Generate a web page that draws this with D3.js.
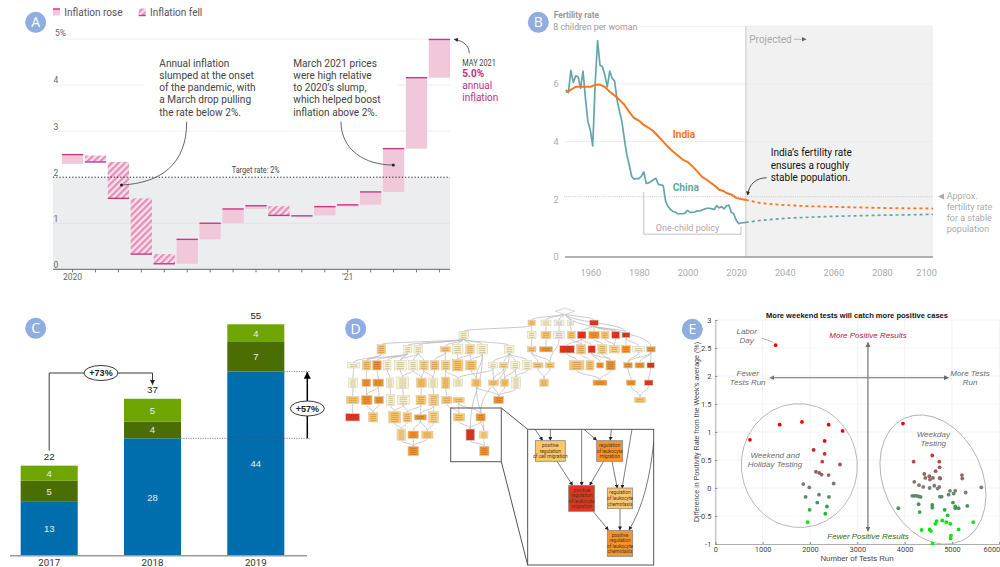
<!DOCTYPE html>
<html><head><meta charset="utf-8">
<script src="https://cdnjs.cloudflare.com/ajax/libs/d3/7.8.5/d3.min.js"></script>
<style>html,body{margin:0;padding:0;background:#fff}svg{display:block}text{font-family:Roboto,sans-serif}</style>
</head><body><div id="c"></div>
<script>
// ---------- Panel A data
const aMonths=["Jan20","Feb20","Mar20","Apr20","May20","Jun20","Jul20","Aug20","Sep20","Oct20","Nov20","Dec20","Jan21","Feb21","Mar21","Apr21","May21"];
const aOpen=[2.29,2.47,2.33,1.54,0.33,0.12,0.65,1.0,1.31,1.37,1.17,1.17,1.36,1.40,1.68,2.62,4.16];
const aClose=[2.49,2.33,1.54,0.33,0.12,0.65,1.0,1.31,1.38,1.17,1.16,1.36,1.40,1.68,2.62,4.16,4.99];
const aTicks=[0,1,2,3,4,5];
// ---------- Panel B data
const bChinaYears=[1950,1951,1952,1953,1954,1955,1956,1957,1958,1959,1960,1961,1962,1963,1964,1965,1966,1967,1968,1969,1970,1971,1972,1973,1974,1975,1976,1977,1978,1979,1980,1981,1982,1983,1984,1985,1986,1987,1988,1989,1990,1991,1992,1993,1994,1995,1996,1997,1998,1999,2000,2001,2002,2003,2004,2005,2006,2007,2008,2009,2010,2011,2012,2013,2014,2015,2016,2017,2018,2019,2020,2021,2022,2024];
const bChina=[5.8,5.7,6.47,6.05,6.28,6.25,5.85,6.45,5.5,4.7,4.4,3.85,6.0,7.5,6.65,6.6,6.3,5.9,6.45,6.2,6.1,5.45,5.05,4.7,4.1,3.55,3.2,2.8,2.7,2.72,2.72,2.8,2.95,2.55,2.57,2.62,2.68,2.73,2.52,2.5,2.48,1.93,1.75,1.65,1.58,1.55,1.5,1.5,1.5,1.52,1.62,1.55,1.55,1.56,1.6,1.6,1.63,1.66,1.69,1.69,1.67,1.65,1.78,1.7,1.75,1.67,1.77,1.8,1.55,1.5,1.28,1.16,1.18,1.2];
const bIndiaYears=[1950,1952,1954,1958,1960,1962,1964,1966,1968,1970,1972,1974,1976,1978,1980,1982,1984,1986,1988,1990,1992,1994,1996,1998,2000,2002,2004,2006,2008,2010,2012,2013,2015,2016,2018,2020,2022,2024];
const bIndia=[5.72,5.8,5.9,5.9,5.9,5.97,5.98,5.9,5.73,5.6,5.45,5.28,5.03,4.82,4.73,4.58,4.48,4.36,4.18,4.0,3.82,3.66,3.52,3.38,3.3,3.15,2.97,2.78,2.67,2.55,2.42,2.33,2.28,2.22,2.17,2.05,2.01,1.98];
const bProjYears=[2024,2030,2040,2050,2060,2070,2080,2090,2101];
const bIndiaProj=[1.98,1.87,1.8,1.76,1.74,1.72,1.7,1.69,1.68];
const bChinaProj=[1.2,1.27,1.34,1.38,1.41,1.43,1.45,1.46,1.48];
const bYearTicks=[1960,1980,2000,2020,2040,2060,2080,2100];
const bValueTicks=[0,2,4,6];
// ---------- Panel C data
const cYears=["2017","2018","2019"];
const cBlue=[12.8,27.9,43.8];
const cDark=[5,4,7];
const cLight=[3.6,5.4,4.2];
const cBlueLabels=["13","28","44"];
const cDarkLabels=["5","4","7"];
const cLightLabels=["4","5","4"];
const cTotals=["22","37","55"];
// ---------- Panel D data: [rank, column, enrichment level, label length, label lines]
const dNodes=[
[1,575,3,22,2],[1,618,1,30,2],[1,657,0,30,2],[1,692,0,18,2],[1,762,5,26,2],
[2,371,1,28,3],[2,575,1,26,3],[2,618,3,30,3],[2,657,0,32,3],[2,694,3,24,3],[2,725,5,26,3],[2,762,4,32,3],[2,795,3,24,3],[2,827,5,24,3],[2,858,5,24,2],
[3,124,3,26,4],[3,203,1,24,3],[3,235,1,26,3],[3,316,3,30,2],[3,353,1,32,4],[3,390,2,26,4],[3,427,1,32,4],[3,508,1,28,3],[3,575,3,26,2],[3,618,4,40,2],[3,681,5,44,3],[3,723,3,28,4],[3,755,5,22,3],[3,787,2,28,4],[3,823,2,30,3],[3,858,4,26,3],[3,896,1,36,2],[3,933,4,26,2],
[4,41,1,36,2],[4,80,3,26,4],[4,111,4,26,4],[4,142,1,22,4],[4,181,1,36,4],[4,219,1,26,4],[4,252,2,26,4],[4,284,3,26,4],[4,317,2,26,4],[4,353,3,32,5],[4,393,3,32,4],[4,459,1,26,2],[4,491,2,26,2],[4,526,1,26,3],[4,561,1,26,4],[4,594,3,30,2],[4,630,3,26,2],[4,710,3,44,4],[4,750,3,24,4],[4,780,4,22,2],[4,812,4,28,4],[4,864,4,26,2],[4,899,4,28,2],[4,932,5,22,2],
[5,39,1,26,4],[5,79,4,26,3],[5,115,4,32,3],[5,150,1,22,4],[5,188,1,36,5],[5,244,3,30,4],[5,279,1,26,4],[5,317,3,24,5],[5,354,1,28,3],[5,409,3,28,3],[5,460,3,30,2],[5,494,3,24,3],[5,528,1,26,5],[5,612,3,26,3],[5,780,4,42,2],[5,873,4,28,2],[5,926,5,26,2],
[6,38,3,38,3],[6,80,4,32,4],[6,117,4,28,3],[6,152,1,24,5],[6,190,1,36,4],[6,243,3,30,4],[6,281,2,30,5],[6,320,3,30,3],[6,356,3,34,2],[6,476,4,30,3],[6,900,3,34,2],
[7,38,5,42,3],[7,99,3,28,4],[7,164,3,36,5],[7,202,3,26,4],[7,241,4,36,2],[7,281,2,30,5],[7,357,3,34,3],[7,422,4,28,3],
[8,184,2,26,5],[8,220,4,32,3],[8,262,3,34,3],[8,391,5,26,5],[8,431,2,26,3],
[9,220,4,32,4],[9,433,4,28,4]];
const dEdges=["0:675>1:575","0:675>1:618","0:675>1:657","0:675>1:692","0:675>1:762","0:675>2:858","0:675>3:933","1:575>2:371","1:575>2:575","1:618>2:618","1:657>2:657","1:692>2:694","1:762>2:725","1:762>2:762","1:762>2:795","1:762>2:827","1:762>2:858",
"2:371>3:124","2:371>3:203","2:371>3:235","2:371>3:316","2:371>3:353","2:371>3:390","2:371>3:427","2:371>3:508","2:575>3:575","2:618>3:618","2:657>4:630","2:694>3:723","2:725>3:681","2:725>3:723","2:725>3:755","2:795>3:823","2:827>3:823","2:858>3:858","2:858>3:896","2:762>3:787",
"3:575>4:594","3:575>4:630","3:681>4:710","3:723>4:750","3:755>4:780","3:755>4:812","3:787>4:812","3:896>4:864","3:933>4:864","3:933>4:899","3:933>4:932","4:594>5:612","4:630>5:612","4:710>5:780","4:812>5:780","4:864>5:873","4:932>5:926","5:873>6:900","5:926>6:900",
"3:124>4:80","3:124>4:41","3:203>4:80","3:203>4:111","3:203>4:142","3:203>4:181","3:235>4:181","3:235>4:219","3:235>4:252","3:316>4:317","3:316>4:284","3:353>4:353","3:390>4:393","3:390>4:353","3:427>4:393","3:427>5:409","3:508>4:459","3:508>4:491","3:508>4:526","3:508>4:561",
"4:41>5:39","5:39>6:38","6:38>7:38","4:80>5:79","4:111>5:115","5:79>6:80","5:115>6:80","5:115>6:117","6:80>7:99","6:117>7:99","4:142>5:150","5:150>6:152","4:181>5:188","5:188>6:190","6:152>7:164","6:190>7:164","6:190>7:202","4:219>5:188","4:219>5:244","4:252>5:244","4:252>5:279","4:284>5:279","4:317>5:317","5:244>6:243","5:279>6:281","5:317>6:320","4:317>5:354","6:243>7:241","6:281>7:241","6:281>7:281","6:243>7:202",
"7:164>8:184","7:202>8:184","7:241>8:220","7:241>8:262","7:281>8:262","8:184>9:220","8:220>9:220","8:262>9:220","6:320>7:357","6:356>7:357","6:356>7:422","4:459>5:460","4:459>5:354","4:491>5:460","4:491>5:494","4:526>5:528","4:526>5:494","4:561>5:528","5:460>6:476","5:494>6:476","5:528>6:476","5:409>6:476","7:357>8:391","7:422>8:391","7:422>8:431","8:391>9:433","8:431>9:433","4:393>5:409","3:427>8:391","3:508>7:422","5:409>8:431"];
const dInsetNames=[["positive","regulation","of cell migration"],["regulation","of leukocyte","migration"],["positive","regulation","of leukocyte","migration"],["regulation","of leukocyte","chemotaxis"],["positive","regulation","of leukocyte","chemotaxis"]];
const dInsetLevels=[3,4,5,3,4];
const dInsetCols=[331,509,425,540,540];
const dInsetRows=[153,153,295,295,430];
const dInsetSizes=[[90,62],[78,62],[78,78],[76,62],[76,78]];
const dInsetEdges=[[285,88,308,121],[331,88,331,121],[425,88,425,257],[432,88,470,121],[514,88,511,121],[576,88,546,265],[351,184,398,256],[491,184,449,256],[516,184,532,265],[540,327,540,390],[460,335,505,390]];
// ---------- Panel E data
const eTests=[1275,732,1359,1831,2394,2690,2310,2077,2310,2260,2634,2127,2197,2246,2394,1859,1986,2500,1908,2190,2401,2155,2359,1993,2324,1951,
3965,4190,4584,4732,4739,4655,4415,4436,4521,4598,4535,4739,4753,5211,5218,4204,4303,4394,4528,4627,4697,4732,4958,5070,4929,5035,5289,5620,4162,4204,4253,4296,4338,4746,4782,4296,4584,4584,3866,4845,5070,5070,5141,5021,5324,4317,4908,4676,4796,4880,4965,4648,5451,4359,4528,4556,5141,4979,4972,4591];
const ePositivity=[2.55,.86,1.13,1.18,1.13,1.02,.84,.68,.61,.47,.42,.29,.27,.24,.23,.07,.01,.08,-.16,-.12,-.16,-.26,-.33,-.39,-.46,-.61,
1.15,.47,.58,.47,.37,.30,.25,.18,.21,.18,.15,.18,.17,.23,.17,.11,.05,.02,0,.04,-.01,.02,-.05,-.05,-.12,-.10,-.08,.01,-.14,-.14,-.14,-.15,-.16,-.155,-.155,-.29,-.30,-.35,-.36,-.39,-.33,-.36,-.36,-.26,-.32,-.43,-.49,-.59,-.58,-.61,-.64,-.64,-.61,-.75,-.74,-.77,-.74,-.85,-.90,-.99];
const eXTicks=[0,1000,2000,3000,4000,5000,6000];
const eYTicks=[3,2.5,2,1.5,1,.5,0,-.5,-1];

const svg=d3.select("#c").append("svg").attr("width",1000).attr("height",567).attr("viewBox","0 0 1000 567");
const defs=svg.append("defs");
const hatch=defs.append("pattern").attr("id","hatch").attr("width",4.6).attr("height",4.6).attr("patternUnits","userSpaceOnUse").attr("patternTransform","rotate(45)");
hatch.append("rect").attr("width",4.6).attr("height",4.6).attr("fill","#f8e3ec");
hatch.append("rect").attr("width",2.3).attr("height",4.6).attr("fill","#e68fba");
defs.append("filter").attr("id","soft").attr("x","-2%").attr("y","-2%").attr("width","104%").attr("height","104%").append("feGaussianBlur").attr("stdDeviation",.4);
function marker(id,color,size){
  defs.append("marker").attr("id",id).attr("viewBox","0 0 10 10").attr("refX",9).attr("refY",5).attr("markerWidth",size).attr("markerHeight",size).attr("orient","auto").attr("markerUnits","userSpaceOnUse")
   .append("path").attr("d","M0,0L10,5L0,10Z").attr("fill",color);
}
marker("arK","#222",5);marker("arB","#000",7);marker("arG","#666",5);marker("arD","#222",4);
function lines(g,arr,x,ys,opt){
  arr.forEach((t,i)=>{const e=g.append("text").attr("x",x).attr("y",ys[i]).text(t);
   Object.entries(opt).forEach(([k,v])=>e.attr(k,v));});
}
// ================= Panel A
(function(){
 const g=svg.append("g");
 const x=d3.scaleBand().domain(aMonths).range([61.9,450.1]).paddingInner(.07);
 const y=d3.scaleLinear().domain([0,5]).range([269.3,39]);
 g.append("rect").attr("x",53).attr("width",397).attr("y",y(2)).attr("height",y(0)-y(2)).attr("fill","#ecedef");
 aTicks.filter(d=>d>0&&d!=2).forEach(d=>{
   if(d==4){[[53,144],[398,450]].forEach(s=>g.append("line").attr("x1",s[0]).attr("x2",s[1]).attr("y1",y(d)).attr("y2",y(d)).attr("stroke","#eceef0"));}
   else g.append("line").attr("x1",53).attr("x2",450).attr("y1",y(d)).attr("y2",y(d)).attr("stroke",d==1?"#e2e3e6":"#eceef0");
 });
 g.selectAll("text.yt").data(aTicks).join("text").attr("x",d=>d==5?55:53.5).attr("y",d=>y(d)-(d==5?3:1.6)).attr("font-size",8.5).attr("fill","#666").text(d=>d==5?"5%":d);
 g.selectAll("rect.b").data(aMonths).join("rect").attr("x",d=>x(d)).attr("width",x.bandwidth())
  .attr("y",(d,i)=>y(Math.max(aOpen[i],aClose[i]))).attr("height",(d,i)=>Math.abs(y(aOpen[i])-y(aClose[i])))
  .attr("fill",(d,i)=>aClose[i]>=aOpen[i]?"#f0c8da":"url(#hatch)");
 g.selectAll("line.c").data(aMonths).join("line").attr("x1",d=>x(d)).attr("x2",d=>x(d)+x.bandwidth()).attr("y1",(d,i)=>y(aClose[i])).attr("y2",(d,i)=>y(aClose[i])).attr("stroke","#c33b84").attr("stroke-width",1.4);
 g.append("line").attr("x1",53).attr("x2",450).attr("y1",y(2)).attr("y2",y(2)).attr("stroke","#222").attr("stroke-dasharray","1.2 2").attr("stroke-width",1);
 g.append("text").attr("x",255.7).attr("y",172.5).attr("text-anchor","middle").attr("font-size",8.2).attr("fill","#444").attr("textLength",48).attr("lengthAdjust","spacingAndGlyphs").text("Target rate: 2%");
 const ax=g.append("g").attr("transform",`translate(0,${y(0)})`).call(d3.axisBottom(x).tickSize(3).tickFormat(d=>d=="Jan20"?"2020":d=="Jan21"?"’21":""));
 ax.select(".domain").remove();
 g.append("line").attr("x1",53).attr("x2",450).attr("y1",y(0)).attr("y2",y(0)).attr("stroke","#666").attr("stroke-width",1);
 ax.selectAll("line").attr("stroke","#777");
 ax.selectAll("text").attr("font-size",8.5).attr("fill","#666").attr("font-family","Roboto").attr("dy",null).attr("y",11);
 [[53,"#f0c8da",true],[138.7,"url(#hatch)",false]].forEach(s=>{
  g.append("rect").attr("x",s[0]).attr("y",8.5).attr("width",7).attr("height",7).attr("fill",s[1]);
  g.append("line").attr("x1",s[0]).attr("x2",s[0]+7).attr("y1",s[2]?9:15.5).attr("y2",s[2]?9:15.5).attr("stroke","#c33b84").attr("stroke-width",1.4);
 });
 const lo={"font-size":10,fill:"#555"};
 lines(g,["Inflation rose"],64.3,[16],lo);lines(g,["Inflation fell"],150,[16],lo);
 const no={"font-size":10.1,fill:"#444"};const ny=[66.5,79,91,103.3,115.7];
 lines(g,["Annual inflation","slumped at the onset","of the pandemic, with","a March drop pulling","the rate below 2%."],159.3,ny,no);
 lines(g,["March 2021 prices","were high relative","to 2020’s slump,","which helped boost","inflation above 2%."],293.3,ny,no);
 const c="#555";
 g.append("path").attr("d","M186.7,121.7C186.7,165 160,183 122,185").attr("fill","none").attr("stroke",c).attr("stroke-width",.9);
 g.append("circle").attr("cx",121.5).attr("cy",185).attr("r",1.5).attr("fill","#222");
 g.append("path").attr("d","M341,121.7C341,150 365,165 393,165").attr("fill","none").attr("stroke",c).attr("stroke-width",.9);
 g.append("circle").attr("cx",393.3).attr("cy",165).attr("r",1.5).attr("fill","#222");
 g.append("path").attr("d","M469.3,53.3C469,45 463,41 454.3,39.3").attr("fill","none").attr("stroke",c).attr("stroke-width",.9).attr("marker-end","url(#arD)");
 g.append("text").attr("x",462.3).attr("y",65.7).attr("font-size",8.4).attr("fill","#444").attr("textLength",33.5).attr("lengthAdjust","spacingAndGlyphs").text("MAY 2021");
 g.append("text").attr("x",462.3).attr("y",76.8).attr("font-size",10).attr("font-weight",700).attr("fill","#c0307f").text("5.0%");
 lines(g,["annual","inflation"],462.3,[89.2,101.3],{"font-size":10,fill:"#c0307f"});
})();
// ================= Panel B
(function(){
 const g=svg.append("g");
 const x=d3.scaleLinear().domain([1950,2101]).range([566,933]);
 const y=d3.scaleLinear().domain([0,8]).range([257,26.3]);
 const pr=x(2024);
 g.append("rect").attr("x",pr).attr("y",26.3).attr("width",933-pr).attr("height",y(0)-26.3).attr("fill","#f1f1f1");
 [4,6].forEach(d=>g.append("line").attr("x1",565).attr("x2",933).attr("y1",y(d)).attr("y2",y(d)).attr("stroke","#ececec"));
 g.append("line").attr("x1",639).attr("x2",933).attr("y1",y(8)).attr("y2",y(8)).attr("stroke","#ececec");
 g.append("line").attr("x1",564).attr("x2",933).attr("y1",y(2.09)).attr("y2",y(2.09)).attr("stroke","#bbb").attr("stroke-dasharray","1 1.2").attr("stroke-width",.8);
 g.append("line").attr("x1",pr).attr("x2",pr).attr("y1",26.3).attr("y2",y(0)).attr("stroke","#c9c9c9").attr("stroke-width",1);
 g.append("line").attr("x1",565).attr("x2",933).attr("y1",y(0)).attr("y2",y(0)).attr("stroke","#999").attr("stroke-width",1.6);
 const ax=g.append("g").attr("transform",`translate(0,${y(0)})`).call(d3.axisBottom(x).tickValues(bYearTicks).tickSize(0).tickFormat(d3.format("d")));
 ax.select(".domain").remove();
 ax.selectAll("text").attr("font-size",9.2).attr("fill","#aaa").attr("font-family","Roboto").attr("dy",null).attr("y",19).attr("dx",d=>d==2100?-4.5:0);
 g.selectAll("text.yl").data(bValueTicks).join("text").attr("x",556).attr("y",d=>y(d)+3.2).attr("text-anchor","middle").attr("font-size",9.2).attr("fill","#aaa").text(d=>d);
 const line=d3.line().x(d=>x(d[0])).y(d=>y(d[1]));
 const zip=(a,b)=>a.map((v,i)=>[v,b[i]]);
 const cc="#62a8a6",ci="#f7761f";
 g.append("path").attr("d",line(zip(bChinaYears,bChina))).attr("fill","none").attr("stroke",cc).attr("stroke-width",1.7).attr("stroke-linejoin","round");
 g.append("path").attr("d",line(zip(bIndiaYears,bIndia))).attr("fill","none").attr("stroke",ci).attr("stroke-width",2).attr("stroke-linejoin","round");
 g.append("path").attr("d",line(zip(bProjYears,bChinaProj))).attr("fill","none").attr("stroke",cc).attr("stroke-width",1.7).attr("stroke-dasharray","3 3");
 g.append("path").attr("d",line(zip(bProjYears,bIndiaProj))).attr("fill","none").attr("stroke",ci).attr("stroke-width",1.8).attr("stroke-dasharray","3 3");
 g.append("path").attr("d",`M${x(1982)},${y(2.25)}V${y(.79)}H${x(2022)}V${y(1.06)}`).attr("fill","none").attr("stroke","#bbb").attr("stroke-width",.9);
 g.append("text").attr("x",x(2000)).attr("y",230.7).attr("text-anchor","middle").attr("font-size",9).attr("fill","#aaa").text("One-child policy");
 g.append("text").attr("x",553.7).attr("y",18).attr("font-size",8.3).attr("font-weight",700).attr("fill","#999").text("Fertility rate");
 g.append("text").attr("x",553.3).attr("y",29.5).attr("font-size",8.8).attr("fill","#999").text("8 children per woman");
 g.append("text").attr("x",749.3).attr("y",43).attr("font-size",10).attr("fill","#aaa").text("Projected");
 g.append("path").attr("d","M794,39.3H806").attr("stroke","#aaa").attr("stroke-width",.8).attr("marker-end","url(#arG)");
 g.append("text").attr("x",672.7).attr("y",137.8).attr("font-size",10.2).attr("font-weight",700).attr("fill",ci).text("India");
 g.append("text").attr("x",672.7).attr("y",190.5).attr("font-size",10.2).attr("font-weight",700).attr("fill",cc).text("China");
 lines(g,["India’s fertility rate","ensures a roughly","stable population."],770.7,[156,168.8,181],{"font-size":10,fill:"#111"});
 g.append("path").attr("d","M766.7,177.7C756,178 749,184 747.7,195").attr("fill","none").attr("stroke","#222").attr("stroke-width",.8).attr("marker-end","url(#arD)");
 g.append("path").attr("d","M938,196.5L944,193.5V199.5Z").attr("fill","#aaa");
 lines(g,["Approx.","fertility rate","for a stable","population"],946.7,[199.3,210.3,221,231.9],{"font-size":9,fill:"#aaa"});
})();
// ================= Panel C
(function(){
 const g=svg.append("g").style("font-family","'Liberation Sans',sans-serif");
 const xb=d3.scaleBand().domain(cYears).range([-25.6,330.6]).padding(.448);
 const y=d3.scaleLinear().domain([0,55]).range([555.7,324.3]);
 const st=d3.stack().keys(["a","b","c"])(cYears.map((d,i)=>({a:cBlue[i],b:cDark[i],c:cLight[i],y:d})));
 const cols=["#006dac","#4a6e03","#6fa500"],labs=[cBlueLabels,cDarkLabels,cLightLabels];
 st.forEach((s,k)=>{
  g.selectAll(null).data(s).join("rect").attr("x",(d,i)=>xb(cYears[i])).attr("width",xb.bandwidth()).attr("y",d=>y(d[1])).attr("height",d=>y(d[0])-y(d[1])).attr("fill",cols[k]);
  g.selectAll(null).data(s).join("text").attr("x",(d,i)=>xb(cYears[i])+xb.bandwidth()/2).attr("y",d=>(y(d[0])+y(d[1]))/2+3.5).attr("text-anchor","middle").attr("font-size",9.5).attr("fill","#e6eef0").style("font-family","'Liberation Sans'").text((d,i)=>labs[k][i]);
 });
 g.append("line").attr("x1",10).attr("x2",307).attr("y1",y(0)).attr("y2",y(0)).attr("stroke","#9a9a9a").attr("stroke-width",1.4);
 const ax=g.append("g").attr("transform",`translate(0,${y(0)})`).call(d3.axisBottom(xb).tickSize(0));
 ax.select(".domain").remove();
 ax.selectAll("text").attr("font-size",9.7).attr("fill","#333").attr("font-family","Liberation Sans").attr("dy",null).attr("y",10.5);
 const totalsTop=cYears.map((d,i)=>cBlue[i]+cDark[i]+cLight[i]);
 g.selectAll("text.t").data(cTotals).join("text").attr("x",(d,i)=>xb(cYears[i])+xb.bandwidth()/2).attr("y",(d,i)=>y(totalsTop[i])-5.5).attr("text-anchor","middle").attr("font-size",9.7).attr("fill","#222").style("font-family","'Liberation Sans'").text(d=>d);
 const cx=i=>xb(cYears[i])+xb.bandwidth()/2;
 g.append("path").attr("d",`M${cx(0)},450.7V373H${cx(1)}V384.5`).attr("fill","none").attr("stroke","#222").attr("stroke-width",.9).attr("marker-end","url(#arK)");
 const y18=y(cBlue[1]),y19=y(cBlue[2]);
 g.append("line").attr("x1",xb("2018")+xb.bandwidth()).attr("x2",310).attr("y1",y18).attr("y2",y18).attr("stroke","#555").attr("stroke-dasharray","1.2 1.2").attr("stroke-width",.7);
 g.append("line").attr("x1",xb("2019")+xb.bandwidth()).attr("x2",310).attr("y1",y19).attr("y2",y19).attr("stroke","#555").attr("stroke-dasharray","1.2 1.2").attr("stroke-width",.7);
 g.append("line").attr("x1",307.3).attr("x2",307.3).attr("y1",y18).attr("y2",y19+1).attr("stroke","#000").attr("stroke-width",1.5).attr("marker-end","url(#arB)");
 [[101,373,"+73%"],[307.3,408.5,"+57%"]].forEach(o=>{
  g.append("ellipse").attr("cx",o[0]).attr("cy",o[1]).attr("rx",17).attr("ry",7.5).attr("fill","#fff").attr("stroke","#222").attr("stroke-width",.9);
  g.append("text").attr("x",o[0]).attr("y",o[1]+3.3).attr("text-anchor","middle").attr("font-size",9).attr("font-weight",700).attr("fill","#222").style("font-family","'Liberation Sans'").text(o[2]);
 });
})();
// ================= Panel D
(function(){
 const g=svg.append("g");
 const gs=g.append("g").attr("filter","url(#soft)");
 const col=d3.scaleLinear().domain([0,1020]).range([340,680]);
 const row=d3.scaleLinear().domain([0,1,2,3,4,5,6,7,8,9]).range([311.3,322.7,335,349.3,365.3,382.7,400,417.3,434.7,451]);
 const color=d3.scaleOrdinal().domain([0,1,2,3,4,5]).range(["#f0f0ee","#f8f4cc","#fad48c","#fbc66c","#f6932a","#e2351f"]);
 const H=l=>(l*6+4)/3, W=l=>l/3;
 const idx=new Map(dNodes.map(n=>[n[0]+":"+n[1],n]));idx.set("0:675",[0,675,0,60,1]);
 const link=d3.linkVertical().x(d=>col(d[1])).y(d=>d[2]);
 const pts=dEdges.map(e=>{const [a,b]=e.split(">").map(k=>idx.get(k));
   return link({source:[0,a[1],row(a[0])+H(a[4])/2],target:[0,b[1],row(b[0])-H(b[4])/2]});});
 gs.selectAll("path.e").data(pts).join("path").attr("d",d=>d).attr("fill","none").attr("stroke","#bdbdbd").attr("stroke-width",.8);
 gs.append("path").attr("d",`M${col(645)},${row(0)}L${col(675)},${row(0)-3.2}L${col(705)},${row(0)}L${col(675)},${row(0)+3.2}Z`).attr("fill","#fafafa").attr("stroke","#ccc").attr("stroke-width",.7);
 const ng=gs.selectAll("g.n").data(dNodes).join("g").attr("transform",d=>`translate(${col(d[1])},${row(d[0])})`);
 ng.append("rect").attr("x",d=>-W(d[3])/2).attr("y",d=>-H(d[4])/2).attr("width",d=>W(d[3])).attr("height",d=>H(d[4])).attr("fill",d=>color(d[2])).attr("stroke","#d6d2c4").attr("stroke-width",.6);
 ng.each(function(d){
   const s=d3.select(this),n=d[4],h=H(n),w=W(d[3]);
   d3.range(n).forEach(i=>s.append("line").attr("x1",-w*.3).attr("x2",w*.3).attr("y1",-h/2+2+i*2).attr("y2",-h/2+2+i*2).attr("stroke","#5a4a30").attr("stroke-opacity",.5).attr("stroke-width",.55));
 });
 g.append("rect").attr("x",450.7).attr("y",408).attr("width",50.6).attr("height",53.7).attr("fill","none").attr("stroke","#555").attr("stroke-width",1);
 const ix=d3.scaleLinear().domain([0,240*3]).range([440,680]);
 const iy=d3.scaleLinear().domain([0,167*3]).range([400,567]);
 g.append("rect").attr("x",ix(263)).attr("y",iy(88)).attr("width",ix(641)-ix(263)).attr("height",iy(495)-iy(88)).attr("fill","#fff").attr("stroke","#555").attr("stroke-width",1);
 g.append("line").attr("x1",ix(184)).attr("y1",iy(24)).attr("x2",ix(263)).attr("y2",iy(88)).attr("stroke","#555").attr("stroke-width",1);
 g.append("line").attr("x1",ix(184)).attr("y1",iy(185)).attr("x2",ix(263)).attr("y2",iy(495)).attr("stroke","#555").attr("stroke-width",1);
 dInsetEdges.forEach(e=>g.append("line").attr("x1",ix(e[0])).attr("y1",iy(e[1])).attr("x2",ix(e[2])).attr("y2",iy(e[3])).attr("stroke","#444").attr("stroke-width",.7).attr("marker-end","url(#arD)"));
 g.append("path").attr("d",`M${ix(641)},${iy(128)}C${ix(630)},${iy(230)} ${ix(610)},${iy(320)} ${ix(567)},${iy(390)}`).attr("fill","none").attr("stroke","#444").attr("stroke-width",.7).attr("marker-end","url(#arD)");
 dInsetNames.forEach((names,i)=>{
  const cx=dInsetCols[i],cy=dInsetRows[i],[w,h]=dInsetSizes[i];
  g.append("rect").attr("x",ix(cx-w/2)).attr("y",iy(cy-h/2)).attr("width",ix(w)-ix(0)).attr("height",iy(h)-iy(0)).attr("fill",color(dInsetLevels[i])).attr("stroke","#888").attr("stroke-width",.8);
  names.forEach((t,j)=>g.append("text").attr("x",ix(cx)).attr("y",iy(cy)+(j-(names.length-1)/2)*5.6+1.6).attr("text-anchor","middle").attr("font-size",4.8).attr("fill","#4a3a25").text(t));
 });
})();
// ================= Panel E
(function(){
 const g=svg.append("g").style("font-family","'Liberation Sans',sans-serif");
 const x=d3.scaleLinear().domain([0,6000]).range([715.3,999.3]);
 const y=d3.scaleLinear().domain([-1,3]).range([544,320]);
 const F="Liberation Sans";
 eXTicks.slice(1).forEach(d=>g.append("line").attr("x1",x(d)).attr("x2",x(d)).attr("y1",y(3)).attr("y2",y(-1)).attr("stroke","#eee").attr("stroke-width",.7));
 eYTicks.slice(0,-1).forEach(d=>g.append("line").attr("x1",x(0)).attr("x2",x(6000)).attr("y1",y(d)).attr("y2",y(d)).attr("stroke","#eee").attr("stroke-width",.7));
 const ax=g.append("g").attr("transform",`translate(0,${y(-1)})`).call(d3.axisBottom(x).tickValues(eXTicks).tickSize(-2).tickPadding(3).tickFormat(d3.format("d")));
 const ay=g.append("g").attr("transform",`translate(${x(0)},0)`).call(d3.axisLeft(y).tickValues(eYTicks).tickSize(-2).tickPadding(4).tickFormat(d=>d));
 [ax,ay].forEach(a=>{a.selectAll("text").attr("font-size",7.4).attr("fill","#444").attr("font-family",F);a.selectAll("line").attr("stroke","#888");a.select(".domain").attr("stroke","#999").attr("stroke-width",.8);});
 ax.selectAll("text").filter(d=>d==6000).attr("text-anchor","end").attr("dx",.4);
 const col=d3.scaleLinear().domain([-1,-.6,-.35,0,.5,.85]).range(["#00f000","#10e010","#3a9a50","#7c7c7c","#b24848","#f00000"]).clamp(true);
 const ell=g.append("g").attr("fill","none").attr("stroke","#aaa").attr("stroke-width",.8);
 ell.append("ellipse").attr("transform",`translate(${x(1775)},${y(.4)}) rotate(-5)`).attr("rx",58).attr("ry",62);
 ell.append("ellipse").attr("transform",`translate(${x(4598)},${y(.15)}) rotate(-25)`).attr("rx",49.3).attr("ry",67.6);
 g.selectAll("circle.p").data(eTests).join("circle").attr("cx",d=>x(d)).attr("cy",(d,i)=>y(ePositivity[i])).attr("r",1.9).attr("fill",(d,i)=>col(ePositivity[i]));
 const a=g.append("g").attr("stroke","#888").attr("stroke-width",.9);
 a.append("line").attr("x1",x(3225)).attr("x2",x(3225)).attr("y1",y(-.77)).attr("y2",y(2.6)).attr("marker-end","url(#arG)");
 a.append("line").attr("x1",x(3225)).attr("x2",x(3225)).attr("y1",y(2.6)).attr("y2",y(-.77)).attr("marker-end","url(#arG)");
 a.append("line").attr("x1",x(4925)).attr("x2",x(1155)).attr("y1",y(1.97)).attr("y2",y(1.97)).attr("marker-end","url(#arG)");
 a.append("line").attr("x1",x(1155)).attr("x2",x(4925)).attr("y1",y(1.97)).attr("y2",y(1.97)).attr("marker-end","url(#arG)");
 g.append("path").attr("d","M761.7,338.3C765,339 769,340.5 773.5,342.5").attr("fill","none").attr("stroke","#777").attr("stroke-width",.6);
 const ti=(t,cx,by,c)=>g.append("text").attr("x",cx).attr("y",by).attr("text-anchor","middle").attr("font-size",8).attr("font-style","italic").attr("fill",c).style("font-family","'Liberation Sans'").text(t);
 const gy="#6b6b6b";
 ti("Labor",746.7,334,gy);ti("Day",746.7,343.3,gy);
 ti("More Positive Results",868,338.3,"#c0143c");ti("Fewer Positive Results",868,539.3,"#2c6e00");
 ti("Fewer",747.7,376,gy);ti("Tests Run",747.7,385,gy);
 ti("More Tests",970,376,gy);ti("Run",970,385,gy);
 ti("Weekend and",775,457.7,gy);ti("Holiday Testing",775,467.3,gy);
 ti("Weekday",933.3,436.7,gy);ti("Testing",933.3,446,gy);
 g.append("text").attr("x",857).attr("y",317.5).attr("text-anchor","middle").attr("font-size",7.8).attr("font-weight",700).attr("fill","#111").attr("textLength",182).attr("lengthAdjust","spacingAndGlyphs").style("font-family","'Liberation Sans'").text("More weekend tests will catch more positive cases");
 g.append("text").attr("x",857).attr("y",561).attr("text-anchor","middle").attr("font-size",7.8).attr("fill","#444").style("font-family","'Liberation Sans'").text("Number of Tests Run");
 g.append("text").attr("transform","translate(699,432) rotate(-90)").attr("text-anchor","middle").attr("font-size",7.6).attr("fill","#444").attr("textLength",180).attr("lengthAdjust","spacingAndGlyphs").style("font-family","'Liberation Sans'").text("Difference in Positivity Rate from the Week's average (%)");
})();
// ================= Panel badges
const badgeLetters=["A","B","C","D","E"];
const badgeX=[35.7,538.3,35.7,355.7,692.3];
const badgeY=[22.3,22.3,328.3,328.7,329.3];
const badges=svg.selectAll("g.badge").data(badgeLetters).join("g").attr("transform",(d,i)=>`translate(${badgeX[i]},${badgeY[i]})`);
badges.append("circle").attr("r",10.5).attr("fill","#8fade0");
badges.append("text").attr("y",4.8).attr("text-anchor","middle").attr("font-size",14).attr("fill","#fff").style("font-family","'Open Sans'").text(d=>d);
</script></body></html>
